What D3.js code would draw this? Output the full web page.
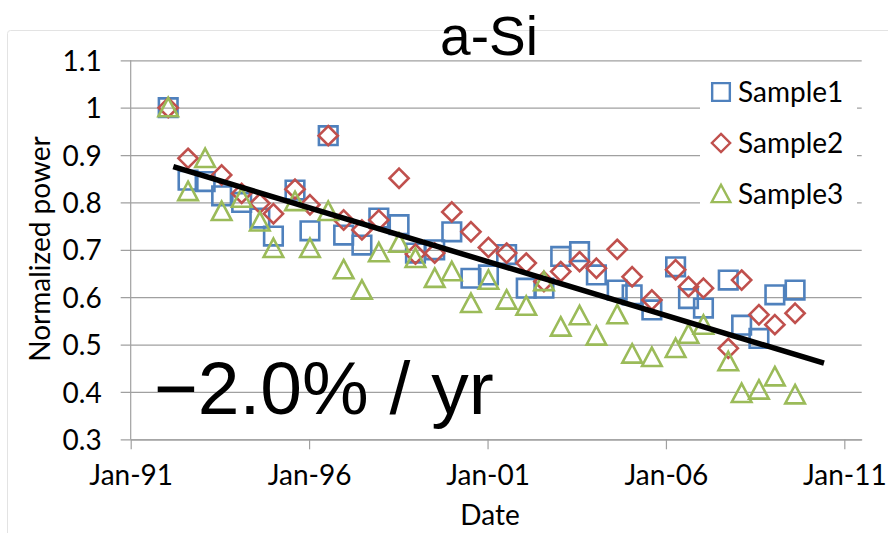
<!DOCTYPE html>
<html>
<head>
<meta charset="utf-8">
<script src="https://cdn.jsdelivr.net/npm/d3@7"></script>
<style>
  html, body { margin: 0; padding: 0; background: #fff; }
  svg { display: block; }
  .axis-text { font-family: Lato, "Open Sans", sans-serif; fill: #000; }
</style>
</head>
<body>
<svg id="chart" width="888" height="533"></svg>
<script>
// Measurement dates (shared by all three samples)
const dates = [
  "1992-01-20", "1992-08-10", "1993-02-01", "1993-07-20", "1994-02-10", "1994-08-15",
  "1995-01-01", "1995-08-10", "1996-01-10", "1996-07-15", "1996-12-20", "1997-06-25",
  "1997-12-15", "1998-07-10", "1998-12-25", "1999-07-10", "2000-01-01", "2000-07-15",
  "2001-01-10", "2001-07-15", "2002-02-01", "2002-08-01", "2003-01-20", "2003-08-01",
  "2004-01-20", "2004-08-20", "2005-01-20", "2005-08-10", "2006-04-10", "2006-08-20",
  "2007-01-20", "2007-10-01", "2008-02-15", "2008-08-10", "2009-01-20", "2009-08-15"
];

// Normalized power of each sample (null = no reading)
const sample1 = [
  1.000, 0.847, 0.844, 0.814, 0.800, 0.767, 0.729, 0.826, 0.740, 0.941, 0.731, 0.710,
  0.767, 0.753, 0.693, 0.700, 0.738, 0.640, 0.647, 0.690, 0.619, 0.619, 0.686, 0.696,
  0.647, 0.615, 0.605, 0.573, 0.664, 0.597, 0.577, 0.636, 0.541, 0.513, 0.605, 0.615
];
const sample2 = [
  1.000, 0.893, null,  0.858, 0.819, 0.798, 0.776, 0.828, 0.795, 0.941, 0.763, 0.742,
  0.763, 0.851, 0.691, 0.693, 0.780, 0.738, 0.705, 0.693, 0.672, 0.633, 0.654, 0.675,
  0.661, 0.701, 0.643, 0.594, 0.658, 0.622, 0.619, 0.492, 0.636, 0.563, 0.542, 0.566
];
const sample3 = [
  1.000, 0.823, 0.893, 0.781, 0.809, 0.759, 0.703, 0.802, 0.703, 0.781, 0.658, 0.615,
  0.694, 0.714, 0.682, 0.640, 0.654, 0.587, 0.636, 0.594, 0.581, 0.633, 0.537, 0.561,
  0.518, 0.563, 0.480, 0.473, 0.492, 0.522, 0.541, 0.464, 0.397, 0.404, 0.432, 0.394
];

// Linear degradation trend (end points)
const trendDates = ["1992-03-12", "2010-06-07"];
const trendValues = [0.8755, 0.4608];

// Axis ticks
const xTickDates = ["1991-01-01", "1996-01-01", "2001-01-01", "2006-01-01", "2011-01-01"];
const xTickLabels = ["Jan-91", "Jan-96", "Jan-01", "Jan-06", "Jan-11"];
const yTickValues = [0.3, 0.4, 0.5, 0.6, 0.7, 0.8, 0.9, 1.0, 1.1];
const yTickLabels = ["0.3", "0.4", "0.5", "0.6", "0.7", "0.8", "0.9", "1", "1.1"];

const seriesNames = ["Sample1", "Sample2", "Sample3"];
const seriesColors = ["#4F81BD", "#C0504D", "#9BBB59"];
const seriesShapes = ["square", "diamond", "triangle"];

const labelSize = "28px";
const parse = d3.timeParse("%Y-%m-%d");
const svg = d3.select("#chart");

// Chart area frame
svg.append("rect")
  .attr("x", 7.5).attr("y", 30.5)
  .attr("width", 900).attr("height", 520)
  .attr("rx", 3)
  .attr("fill", "#fff")
  .attr("stroke", "#e3e3e3");

const plot = { left: 130.7, right: 861.7, top: 60.3, bottom: 439.3 };

const x = d3.scaleTime()
  .domain([parse("1991-01-01"), parse("2011-06-28")])
  .range([plot.left, plot.right]);
const y = d3.scaleLinear()
  .domain([0.3, 1.1])
  .range([plot.bottom, plot.top]);

// Horizontal gridlines with outward ticks on the value axis
const yAxis = d3.axisLeft(y)
  .tickValues(yTickValues)
  .tickSize(-(plot.right - plot.left))
  .tickSizeOuter(0)
  .tickFormat((d, i) => yTickLabels[i]);
const gy = svg.append("g")
  .attr("transform", `translate(${plot.left},0)`)
  .call(yAxis);
gy.select(".domain").remove();
gy.selectAll(".tick line")
  .attr("x1", -10)
  .attr("stroke", "#a0a0a0")
  .attr("stroke-width", 1.2);
gy.selectAll(".tick text")
  .attr("class", "axis-text")
  .attr("x", -29)
  .attr("dy", "0.36em")
  .style("font-size", labelSize);

// Value axis line
svg.append("line")
  .attr("x1", plot.left).attr("x2", plot.left)
  .attr("y1", plot.top).attr("y2", plot.bottom)
  .attr("stroke", "#a0a0a0").attr("stroke-width", 1.2);

// Date axis
const xAxis = d3.axisBottom(x)
  .tickValues(xTickDates.map(parse))
  .tickSize(10)
  .tickSizeOuter(0)
  .tickFormat((d, i) => xTickLabels[i]);
const gx = svg.append("g")
  .attr("transform", `translate(0,${plot.bottom})`)
  .call(xAxis);
gx.select(".domain")
  .attr("stroke", "#a0a0a0").attr("stroke-width", 1.2);
gx.selectAll(".tick line").attr("stroke", "#a0a0a0").attr("stroke-width", 1.2);
gx.selectAll(".tick text")
  .attr("class", "axis-text")
  .attr("y", 32)
  .attr("dy", "0.5em")
  .style("font-size", labelSize);

// Marker path generators
function markerPath(shape, k) {
  if (shape === "square") {
    const h = 9.3 * k;
    return `M${-h},${-h}H${h}V${h}H${-h}Z`;
  }
  if (shape === "diamond") {
    const h = 9.6 * k;
    return `M0,${-h}L${h},0L0,${h}L${-h},0Z`;
  }
  const w = 9.8 * k, t = 9.8 * k, b = 8.6 * k;
  return `M0,${-t}L${w},${b}L${-w},${b}Z`;
}

const allSeries = [sample1, sample2, sample3];
allSeries.forEach((vals, si) => {
  const pts = dates.map((d, i) => ({ date: parse(d), value: vals[i] }))
    .filter(p => p.value !== null);
  svg.append("g")
    .selectAll("path")
    .data(pts)
    .join("path")
    .attr("transform", p => `translate(${x(p.date)},${y(p.value)})`)
    .attr("d", markerPath(seriesShapes[si], 1))
    .attr("fill", "none")
    .attr("stroke", seriesColors[si])
    .attr("stroke-width", 2.6)
    .attr("stroke-linejoin", "miter");
});

// Trend line
const trend = trendDates.map((d, i) => ({ date: parse(d), value: trendValues[i] }));
svg.append("path")
  .datum(trend)
  .attr("d", d3.line().x(p => x(p.date)).y(p => y(p.value)))
  .attr("stroke", "#000")
  .attr("stroke-width", 5.5)
  .attr("fill", "none");

// Legend
const legend = svg.append("g");
legend.append("rect")
  .attr("x", 700).attr("y", 68)
  .attr("width", 157).attr("height", 152)
  .attr("fill", "#fff");
seriesNames.forEach((name, i) => {
  const ly = 92 + i * 51;
  legend.append("path")
    .attr("transform", `translate(721,${ly})`)
    .attr("d", markerPath(seriesShapes[i], 0.95))
    .attr("fill", "none")
    .attr("stroke", seriesColors[i])
    .attr("stroke-width", 2.4);
  legend.append("text")
    .attr("class", "axis-text")
    .attr("x", 738).attr("y", ly)
    .attr("dy", "0.36em")
    .style("font-size", labelSize)
    .text(name);
});

// Axis titles
svg.append("text")
  .attr("class", "axis-text")
  .attr("x", 490).attr("y", 515)
  .attr("dy", "0.36em")
  .attr("text-anchor", "middle")
  .style("font-size", labelSize)
  .text("Date");
svg.append("text")
  .attr("class", "axis-text")
  .attr("transform", "translate(40,249) rotate(-90)")
  .attr("dy", "0.36em")
  .attr("text-anchor", "middle")
  .style("font-size", labelSize)
  .text("Normalized power");

// Chart title
svg.append("text")
  .attr("x", 489).attr("y", 55)
  .attr("text-anchor", "middle")
  .style("font-family", "'Liberation Sans', Arial, sans-serif")
  .style("font-size", "55px")
  .text("a-Si");

// Degradation rate annotation
svg.append("text")
  .attr("x", 154).attr("y", 414)
  .style("font-family", "'Liberation Sans', Arial, sans-serif")
  .style("font-size", "75px")
  .text("\u22122.0% / yr");
</script>
</body>
</html>
